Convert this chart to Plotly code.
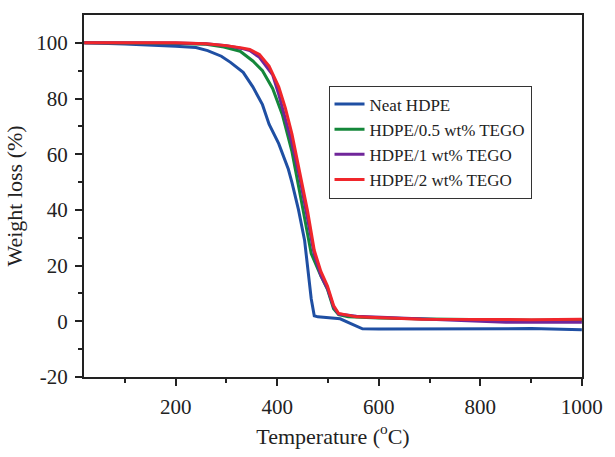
import plotly.graph_objects as go

# Temperature (°C) and weight (%)
neat_T = [20, 100, 200, 240, 263, 290, 308, 333, 352, 371, 384, 403, 422, 429, 442, 454, 467, 473, 480, 500, 524, 545, 568, 600, 700, 800, 900, 1000]
neat_W = [100, 99.6, 98.8, 98.3, 97.2, 95.2, 93.0, 89.4, 84.2, 77.8, 70.8, 63.8, 54.6, 49.9, 40.0, 29.0, 8.1, 2.0, 1.6, 1.4, 0.9, -0.8, -2.7, -2.8, -2.7, -2.7, -2.6, -3.0]

t05_T = [20, 100, 200, 260, 295, 327, 352, 371, 391, 410, 429, 448, 467, 486, 499, 511, 521, 540, 600, 700, 800, 900, 1000]
t05_W = [100, 100, 99.8, 99.5, 98.5, 97.0, 93.5, 90.0, 83.6, 74.3, 61.0, 42.9, 24.3, 16.3, 11.5, 4.5, 2.4, 1.6, 1.2, 0.8, 0.5, 0.4, 0.4]

t1_T = [20, 100, 200, 260, 300, 330, 346, 365, 384, 391, 403, 416, 429, 445, 460, 473, 486, 499, 511, 521, 556, 650, 750, 850, 1000]
t1_W = [100, 100, 99.9, 99.7, 99.0, 98.0, 97.2, 94.8, 90.5, 88.5, 81.5, 73.0, 64.0, 51.0, 37.0, 24.0, 16.5, 11.8, 5.2, 2.6, 1.8, 1.0, 0.4, -0.3, -0.3]

t2_T = [20, 100, 200, 260, 300, 330, 346, 365, 384, 403, 416, 429, 445, 460, 473, 486, 499, 511, 521, 556, 683, 800, 900, 1000]
t2_W = [100, 100, 100, 99.7, 99.0, 98.2, 97.6, 95.8, 91.7, 84.2, 76.6, 67.3, 52.8, 39.4, 25.5, 17.9, 12.7, 5.7, 2.8, 1.6, 0.7, 0.6, 0.6, 0.7]

names = ["Neat HDPE", "HDPE/0.5 wt% TEGO", "HDPE/1 wt% TEGO", "HDPE/2 wt% TEGO"]
colors = ["#1f4fa3", "#14873a", "#70269a", "#f0262b"]
series = [(neat_T, neat_W), (t05_T, t05_W), (t1_T, t1_W), (t2_T, t2_W)]

x_ticks = [200, 400, 600, 800, 1000]
x_ticklabels = ["200", "400", "600", "800", "1000"]
y_ticks = [-20, 0, 20, 40, 60, 80, 100]
y_ticklabels = ["-20", "0", "20", "40", "60", "80", "100"]

fig = go.Figure()
for (T, W), n, c in zip(series, names, colors):
    fig.add_trace(go.Scatter(x=T, y=W, mode="lines", name=n,
                             line=dict(color=c, width=3)))

font_family = "Liberation Serif"
axis_common = dict(showline=True, linecolor="#222222", linewidth=2, mirror=True,
                   showgrid=False, zeroline=False, ticks="outside", ticklen=7,
                   tickwidth=2, tickcolor="#222222", ticklabelstandoff=3,
                   tickfont=dict(family=font_family, size=21, color="#222222"))

fig.update_layout(
    width=615, height=457,
    margin=dict(l=84, r=24, t=15, b=70),
    paper_bgcolor="white", plot_bgcolor="white",
    font=dict(family=font_family, color="#222222"),
    showlegend=True,
    legend=dict(x=0.491, y=0.649, xanchor="left", yanchor="middle",
                bgcolor="white", bordercolor="#333333", borderwidth=1,
                font=dict(family=font_family, size=17, color="#222222"),
                tracegroupgap=0),
)
fig.update_xaxes(range=[19.5, 1000.3], tickvals=x_ticks, ticktext=x_ticklabels,
                 minor=dict(tickvals=[100, 300, 500, 700, 900], ticks="outside", ticklen=4,
                            tickwidth=2, tickcolor="#222222"),
                 title=dict(text="Temperature (<sup>o</sup>C)", font=dict(family=font_family, size=22), standoff=10),
                 **axis_common)
fig.update_yaxes(range=[-20, 110], tickvals=y_ticks, ticktext=y_ticklabels,
                 minor=dict(tickvals=[-10, 10, 30, 50, 70, 90], ticks="outside", ticklen=4,
                            tickwidth=2, tickcolor="#222222"),
                 title=dict(text="Weight loss (%)", font=dict(family=font_family, size=22), standoff=8),
                 **axis_common)

fig.write_html("out.html", config={"displayModeBar": False},
               post_script="document.body.style.margin='0';document.body.style.overflow='hidden';")
